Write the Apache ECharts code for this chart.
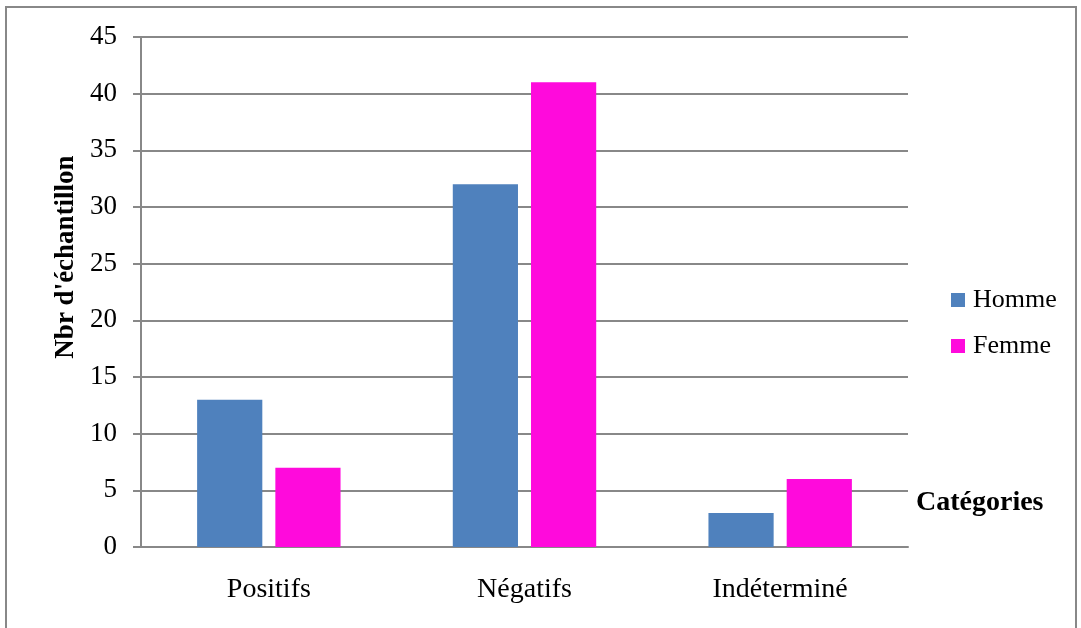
<!DOCTYPE html>
<html>
<head>
<meta charset="utf-8">
<script src="https://cdn.jsdelivr.net/npm/echarts@6/dist/echarts.min.js"></script>
<style>
  html, body { margin: 0; padding: 0; background: #fff; }
  #chart { width: 1081px; height: 628px; }
</style>
</head>
<body>
<div id="chart"></div>
<script>
const categories = ["Positifs", "Négatifs", "Indéterminé"];
const homme = [13, 32, 3];
const femme = [7, 41, 6];
const yTicks = { min: 0, max: 45, interval: 5 };

const font = "'Liberation Serif', 'Times New Roman', serif";
const myChart = echarts.init(document.getElementById("chart"));

myChart.setOption({
  animation: false,
  textStyle: { fontFamily: font },
  grid: { left: 141, right: 173, top: 37, bottom: 81 },
  legend: {
    orient: "vertical",
    left: 951,
    top: 287,
    padding: 0,
    itemWidth: 14,
    itemHeight: 14,
    itemGap: 20,
    icon: "rect",
    textStyle: { fontFamily: font, fontSize: 26, color: "#000", padding: [0, 0, 0, 3] },
    data: ["Homme", "Femme"],
  },
  xAxis: {
    type: "category",
    data: categories,
    axisLine: { lineStyle: { color: "#888", width: 2 } },
    axisTick: { show: false },
    axisLabel: { fontFamily: font, fontSize: 28, color: "#000", margin: 29 },
  },
  yAxis: {
    type: "value",
    min: yTicks.min,
    max: yTicks.max,
    interval: yTicks.interval,
    axisLine: { show: true, lineStyle: { color: "#888", width: 2 } },
    axisTick: { show: true, length: 8, lineStyle: { color: "#888", width: 2 } },
    splitLine: { lineStyle: { color: "#888", width: 2 } },
    axisLabel: { fontFamily: font, fontSize: 27, color: "#000", margin: 24 },
  },
  graphic: [
    {
      type: "rect",
      shape: { x: 6, y: 7, width: 1070, height: 630 },
      style: { fill: "none", stroke: "#888", lineWidth: 2 },
      silent: true,
    },
    {
      // axis title sits higher than the axis middle in the original
      type: "text",
      x: 66,
      y: 257,
      rotation: Math.PI / 2,
      style: {
        text: "Nbr d'échantillon",
        font: "bold 27px " + font,
        fill: "#000",
        align: "center",
        verticalAlign: "middle",
      },
    },
    {
      type: "text",
      left: 916,
      top: 489,
      style: { text: "Catégories", font: "bold 28px " + font, fill: "#000" },
    },
  ],
  series: [
    {
      name: "Homme",
      type: "bar",
      data: homme,
      barWidth: "25.5%",
      barGap: "20%",
      itemStyle: { color: "#4F81BD" },
    },
    {
      name: "Femme",
      type: "bar",
      data: femme,
      barWidth: "25.5%",
      itemStyle: { color: "#FF0ADC" },
    },
  ],
});
</script>
</body>
</html>
